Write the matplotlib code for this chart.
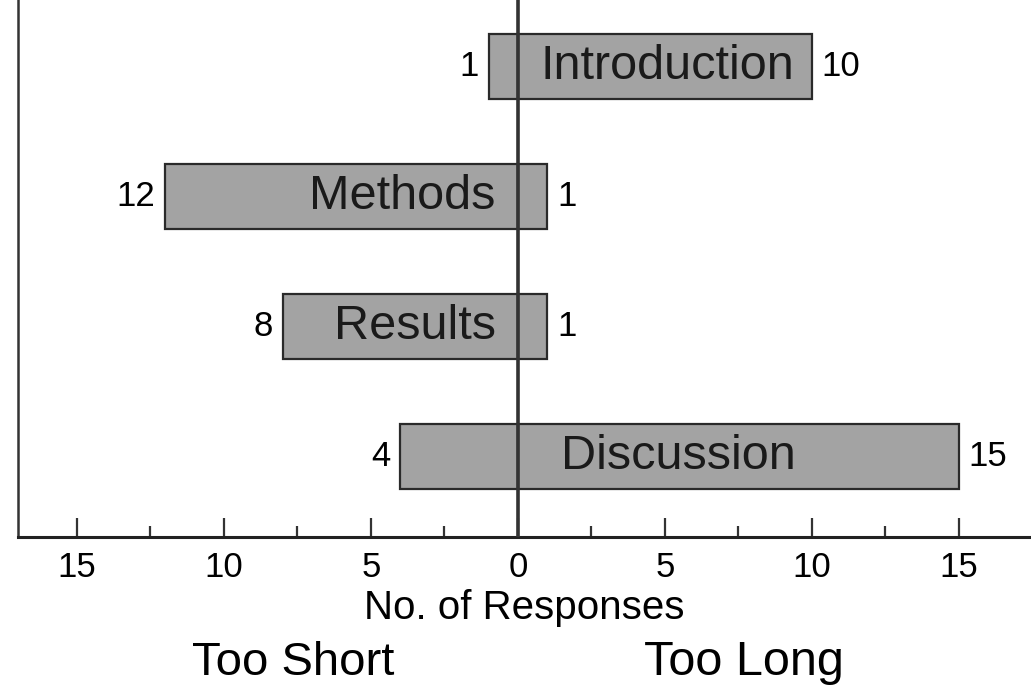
import numpy as np
import matplotlib.pyplot as plt
from matplotlib.ticker import FixedLocator, FuncFormatter
import matplotlib.transforms as mtransforms

# === Data ===
sections = ['Introduction', 'Methods', 'Results', 'Discussion']
too_short = [1, 12, 8, 4]
too_long = [10, 1, 1, 15]

# label placement for section names (x in data units, alignment)
name_x = [5.1, -0.75, -0.75, 5.45]
name_ha = ['center', 'right', 'right', 'center']

plt.rcParams['font.family'] = ['Liberation Sans', 'DejaVu Sans']

fig = plt.figure(figsize=(10.31, 6.88), dpi=100)
ax = fig.add_axes([0.0175, 0.2195, 0.9825, 0.7805])

ypos = np.arange(len(sections))[::-1]
bar_col = '#a3a3a3'
edge_col = '#2a2a2a'

ax.barh(ypos, -np.array(too_short), height=0.5, color=bar_col,
        edgecolor=edge_col, linewidth=1.6, zorder=2)
ax.barh(ypos, too_long, height=0.5, color=bar_col,
        edgecolor=edge_col, linewidth=1.6, zorder=2)

# zero line
ax.axvline(0, color='#333333', linewidth=2.6, zorder=3)

for i, y in enumerate(ypos):
    ax.annotate(str(too_short[i]), (-too_short[i], y), xytext=(-7, 0),
                textcoords='offset points', ha='right', va='center',
                fontsize=25, zorder=4)
    ax.annotate(str(too_long[i]), (too_long[i], y), xytext=(7, 0),
                textcoords='offset points', ha='left', va='center',
                fontsize=25, zorder=4)
    ax.text(name_x[i], y, sections[i], ha=name_ha[i], va='center',
            fontsize=35, color='#1a1a1a', zorder=4)

ax.set_xlim(-17.0, 17.45)
ax.set_ylim(-0.615, 3.51)

ax.xaxis.set_major_locator(FixedLocator([-15, -10, -5, 0, 5, 10, 15]))
ax.xaxis.set_minor_locator(FixedLocator([-12.5, -7.5, -2.5, 2.5, 7.5, 12.5]))
ax.xaxis.set_major_formatter(FuncFormatter(lambda v, p: f'{abs(v):g}'))
ax.tick_params(axis='x', which='major', direction='in', length=14, width=1.6,
               labelsize=25, pad=10, color='#333333')
ax.tick_params(axis='x', which='minor', direction='in', length=8, width=1.6,
               color='#333333')
ax.set_yticks([])

ax.spines['top'].set_visible(False)
ax.spines['right'].set_visible(False)
ax.spines['left'].set_linewidth(1.8)
ax.spines['bottom'].set_linewidth(2.2)
ax.spines['left'].set_color('#333333')
ax.spines['bottom'].set_color('#222222')

ax.set_xlabel('No. of Responses', fontsize=29, labelpad=4)

trans = mtransforms.blended_transform_factory(ax.transData, fig.transFigure)
ax.text(-7.65, 0.037, 'Too Short', transform=trans, ha='center', va='center',
        fontsize=34)
ax.text(7.7, 0.037, 'Too Long', transform=trans, ha='center', va='center',
        fontsize=35)

fig.savefig('out.png', dpi=100)
